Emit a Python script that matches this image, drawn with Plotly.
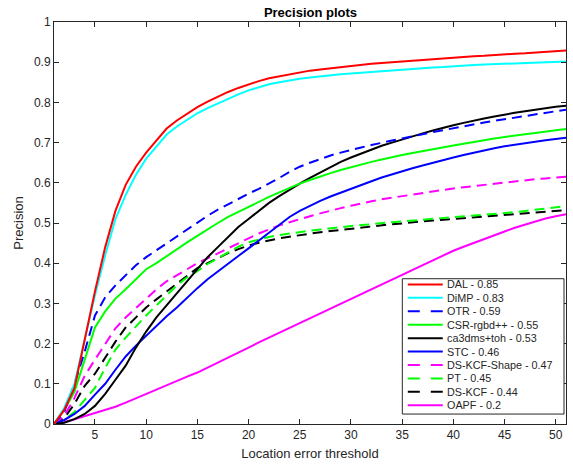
import plotly.graph_objects as go

thresholds = list(range(1, 52))

dal = [0, 0.035, 0.09, 0.21, 0.33, 0.44, 0.53, 0.595, 0.64, 0.675, 0.705, 0.735, 0.755, 0.772, 0.788, 0.802,
       0.815, 0.826, 0.836, 0.845, 0.853, 0.86, 0.865, 0.87, 0.875, 0.879, 0.882, 0.885, 0.888, 0.891, 0.893,
       0.896, 0.898, 0.9, 0.902, 0.904, 0.906, 0.908, 0.91, 0.912, 0.913, 0.915, 0.916, 0.918, 0.919, 0.921,
       0.922, 0.924, 0.925, 0.927, 0.929]
dimp = [0, 0.04, 0.1, 0.21, 0.32, 0.42, 0.51, 0.57, 0.62, 0.66, 0.69, 0.72, 0.74, 0.757, 0.773, 0.786,
        0.798, 0.81, 0.82, 0.83, 0.838, 0.845, 0.85, 0.855, 0.859, 0.862, 0.865, 0.868, 0.87, 0.872, 0.874,
        0.876, 0.878, 0.88, 0.882, 0.884, 0.885, 0.887, 0.888, 0.89, 0.891, 0.893, 0.894, 0.895, 0.896, 0.897,
        0.898, 0.899, 0.9, 0.901, 0.902]
otr = [0, 0.03, 0.1, 0.18, 0.27, 0.315, 0.345, 0.37, 0.395, 0.415, 0.432, 0.45, 0.468, 0.485, 0.5, 0.518,
       0.533, 0.547, 0.56, 0.573, 0.585, 0.598, 0.612, 0.627, 0.64, 0.65, 0.66, 0.668, 0.675, 0.682, 0.688,
       0.694, 0.7, 0.705, 0.71, 0.716, 0.721, 0.726, 0.731, 0.736, 0.741, 0.746, 0.75, 0.754, 0.758, 0.762,
       0.766, 0.77, 0.774, 0.778, 0.782]
csr = [0, 0.035, 0.08, 0.16, 0.24, 0.28, 0.312, 0.335, 0.36, 0.385, 0.4, 0.418, 0.435, 0.452, 0.468, 0.485,
       0.5, 0.515, 0.528, 0.54, 0.552, 0.565, 0.576, 0.588, 0.598, 0.607, 0.616, 0.624, 0.632, 0.639, 0.646,
       0.652, 0.658, 0.664, 0.669, 0.674, 0.679, 0.684, 0.689, 0.693, 0.697, 0.702, 0.706, 0.71, 0.714, 0.717,
       0.721, 0.724, 0.728, 0.731, 0.734]
ca3dms = [0, 0.003, 0.012, 0.025, 0.045, 0.075, 0.11, 0.145, 0.19, 0.23, 0.265, 0.295, 0.325, 0.355, 0.385,
          0.415, 0.44, 0.465, 0.49, 0.51, 0.53, 0.55, 0.567, 0.583, 0.598, 0.612, 0.626, 0.64, 0.652, 0.663,
          0.673, 0.683, 0.692, 0.7, 0.708, 0.716, 0.723, 0.73, 0.737, 0.743, 0.749, 0.755, 0.76, 0.765, 0.77,
          0.774, 0.778, 0.782, 0.785, 0.789, 0.792]
stc = [0, 0.01, 0.025, 0.045, 0.073, 0.1, 0.135, 0.168, 0.195, 0.22, 0.245, 0.268, 0.29, 0.315, 0.338, 0.36,
       0.38, 0.4, 0.418, 0.437, 0.456, 0.475, 0.495, 0.515, 0.53, 0.543, 0.555, 0.566, 0.576, 0.586, 0.595,
       0.604, 0.613, 0.621, 0.629, 0.636, 0.643, 0.65, 0.657, 0.663, 0.669, 0.675, 0.681, 0.686, 0.691, 0.695,
       0.699, 0.703, 0.706, 0.709, 0.712]
dskcf_shape = [0, 0.02, 0.065, 0.12, 0.16, 0.2, 0.238, 0.265, 0.288, 0.31, 0.335, 0.355, 0.37, 0.385, 0.4,
               0.412, 0.425, 0.437, 0.45, 0.462, 0.474, 0.485, 0.494, 0.502, 0.51, 0.517, 0.524, 0.531, 0.537,
               0.543, 0.549, 0.554, 0.559, 0.563, 0.567, 0.571, 0.575, 0.579, 0.583, 0.586, 0.589, 0.592, 0.595,
               0.598, 0.601, 0.604, 0.607, 0.609, 0.611, 0.613, 0.615]
pt = [0, 0.01, 0.03, 0.06, 0.09, 0.14, 0.185, 0.215, 0.243, 0.27, 0.295, 0.32, 0.345, 0.365, 0.38, 0.398,
      0.413, 0.428, 0.441, 0.452, 0.459, 0.465, 0.47, 0.474, 0.478, 0.481, 0.484, 0.487, 0.49, 0.492, 0.495,
      0.497, 0.5, 0.502, 0.504, 0.506, 0.508, 0.51, 0.512, 0.514, 0.516, 0.518, 0.52, 0.522, 0.525, 0.527,
      0.53, 0.533, 0.536, 0.539, 0.542]
dskcf = [0, 0.015, 0.05, 0.095, 0.125, 0.165, 0.205, 0.24, 0.265, 0.29, 0.31, 0.33, 0.35, 0.37, 0.388, 0.4,
         0.413, 0.425, 0.435, 0.444, 0.451, 0.457, 0.462, 0.466, 0.47, 0.474, 0.477, 0.48, 0.483, 0.486, 0.489,
         0.492, 0.494, 0.497, 0.499, 0.502, 0.504, 0.506, 0.508, 0.51, 0.512, 0.514, 0.516, 0.518, 0.52, 0.522,
         0.524, 0.526, 0.528, 0.53, 0.532]
oapf = [0, 0.005, 0.012, 0.02, 0.027, 0.035, 0.043, 0.053, 0.064, 0.075, 0.087, 0.098, 0.108, 0.118, 0.128,
        0.14, 0.152, 0.165, 0.178, 0.19, 0.203, 0.215, 0.227, 0.239, 0.251, 0.263, 0.276, 0.288, 0.3, 0.312,
        0.324, 0.336, 0.348, 0.36, 0.372, 0.384, 0.396, 0.408, 0.42, 0.431, 0.441, 0.451, 0.461, 0.47, 0.479,
        0.488, 0.496, 0.504, 0.511, 0.517, 0.522]

names = ["DAL - 0.85", "DiMP - 0.83", "OTR - 0.59", "CSR-rgbd++ - 0.55", "ca3dms+toh - 0.53",
         "STC - 0.46", "DS-KCF-Shape - 0.47", "PT - 0.45", "DS-KCF - 0.44", "OAPF - 0.2"]
series = [dal, dimp, otr, csr, ca3dms, stc, dskcf_shape, pt, dskcf, oapf]
colors = ["#FF0000", "#00FFFF", "#0000FF", "#00FF00", "#000000", "#0000FF", "#FF00FF", "#00FF00", "#000000", "#FF00FF"]
dashed = [False, False, True, False, False, False, True, True, True, False]

x_ticks = [5, 10, 15, 20, 25, 30, 35, 40, 45, 50]
y_ticks = [0, 0.1, 0.2, 0.3, 0.4, 0.5, 0.6, 0.7, 0.8, 0.9, 1]
y_tick_text = ["0", "0.1", "0.2", "0.3", "0.4", "0.5", "0.6", "0.7", "0.8", "0.9", "1"]

FONT = "Liberation Sans, Arial, sans-serif"
TXT = "#262626"

fig = go.Figure()
# draw in reverse order so the first entries are on top
for i in reversed(range(len(series))):
    fig.add_trace(go.Scatter(
        x=thresholds, y=series[i], mode="lines", name=names[i], showlegend=False,
        line=dict(color=colors[i], width=2, dash="10px,6px" if dashed[i] else "solid"),
    ))

# plot area in pixels
L, R, T, B = 54, 567, 22, 426
W, H = 573, 465

def px_x(px):
    return (px - L) / (R - L)

def px_y(py):
    return (B - py) / (B - T)

shapes = [dict(type="rect", xref="paper", yref="paper",
               x0=px_x(403), x1=px_x(565), y0=px_y(416), y1=px_y(280),
               line=dict(color=TXT, width=1), fillcolor="white", layer="above")]
annotations = []
for i, nm in enumerate(names):
    yc = px_y(285.7 + 13.5 * i)
    shapes.append(dict(type="line", xref="paper", yref="paper",
                       x0=px_x(408.5), x1=px_x(443.5), y0=yc, y1=yc, layer="above",
                       line=dict(color=colors[i], width=2, dash="12px,11px" if dashed[i] else "solid")))
    annotations.append(dict(xref="paper", yref="paper", x=px_x(446), y=yc, text=nm, showarrow=False,
                            xanchor="left", yanchor="middle", font=dict(family=FONT, size=10.8, color=TXT)))

axis_common = dict(showline=True, linecolor=TXT, linewidth=1, mirror="ticks", ticks="inside",
                   ticklen=5, tickcolor=TXT, showgrid=False, zeroline=False,
                   tickfont=dict(family=FONT, size=12, color=TXT))

fig.update_layout(
    width=W, height=H,
    margin=dict(l=L, r=W - R, t=T, b=H - B),
    paper_bgcolor="white", plot_bgcolor="white",
    title=dict(text="<b>Precision plots</b>", x=(L + R) / 2 / W, xanchor="center", y=1 - 12 / H,
               yanchor="middle", font=dict(family=FONT, size=13, color="#000000")),
    xaxis=dict(range=[1, 51], tickvals=x_ticks,
               title=dict(text="Location error threshold", standoff=7,
                          font=dict(family=FONT, size=13, color=TXT)), **axis_common),
    yaxis=dict(range=[0, 1], tickvals=y_ticks, ticktext=y_tick_text,
               title=dict(text="Precision", standoff=7,
                          font=dict(family=FONT, size=13, color=TXT)), **axis_common),
    shapes=shapes, annotations=annotations, showlegend=False,
)

fig.write_html("out.html", config={"displayModeBar": False},
               post_script="document.body.style.margin='0';document.body.style.overflow='hidden';")
